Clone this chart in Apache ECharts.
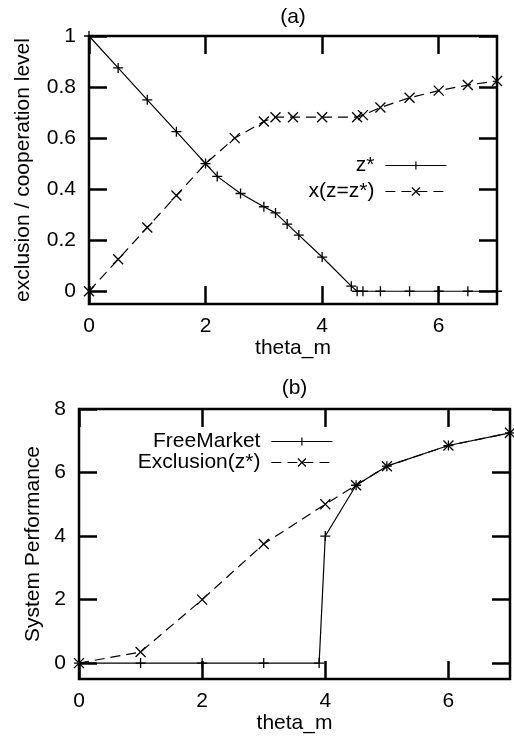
<!DOCTYPE html>
<html>
<head>
<meta charset="utf-8">
<script src="https://cdn.jsdelivr.net/npm/echarts@6/dist/echarts.min.js"></script>
<style>
  html, body { margin: 0; padding: 0; background: #fff; }
  #chart { width: 514px; height: 739px; }
</style>
</head>
<body>
<div id="chart"></div>
<script>
// (a) 数据
const zStarX = [0, 0.5, 1, 1.5, 2, 2.2, 2.6, 3, 3.2, 3.4, 3.6, 4, 4.5, 4.6, 4.7, 5, 5.5, 6, 6.5, 7]
const zStarY = [1, 0.875, 0.75, 0.625, 0.5, 0.45, 0.383, 0.331, 0.307, 0.263, 0.22, 0.134, 0.02, 0, 0, 0, 0, 0, 0, 0]
const xzX = [0, 0.5, 1, 1.5, 2, 2.5, 3, 3.2, 3.5, 4, 4.6, 4.7, 5, 5.5, 6, 6.5, 7]
const xzY = [0, 0.125, 0.25, 0.375, 0.5, 0.6, 0.665, 0.682, 0.682, 0.682, 0.682, 0.69, 0.72, 0.758, 0.786, 0.808, 0.824]
// (b) 数据
const freeX = [0, 1, 2, 3, 3.9, 4, 4.5, 5, 6, 7]
const freeY = [0, 0, 0, 0, 0, 4.0, 5.6, 6.2, 6.85, 7.25]
const exclX = [0, 1, 2, 3, 4, 4.5, 5, 6, 7]
const exclY = [0, 0.35, 2.0, 3.75, 5.0, 5.6, 6.2, 6.85, 7.25]
// 刻度
const xTicks = [0, 2, 4, 6]
const yTicksA = [0, 0.2, 0.4, 0.6, 0.8, 1]
const yTicksB = [0, 2, 4, 6, 8]

const FONT = 'Liberation Sans'
const FS = 21
const PLUS = 'path://M0,5L10,5M5,0L5,10'
const CROSS = 'path://M0,0L10,10M10,0L0,10'
const DASH = [10, 6]

function zip(xs, ys) {
    return xs.map((x, i) => [x, ys[i]])
}

// 坐标轴 (gnuplot 风格，刻度朝内，四边都有)
function axis(gi, pos, min, max, ticks, name, gap, showLabel) {
    const isX = pos === 'bottom' || pos === 'top'
    return {
        type: 'value',
        gridIndex: gi,
        position: pos,
        min: min,
        max: max,
        name: showLabel ? name : '',
        nameLocation: 'middle',
        nameGap: gap,
        nameTextStyle: { fontFamily: FONT, fontSize: FS, color: '#000' },
        axisLine: { show: false, onZero: false },
        axisTick: {
            show: true, inside: true, length: 18, customValues: ticks,
            lineStyle: { color: '#000', width: 2.5 }
        },
        axisLabel: {
            show: showLabel, customValues: ticks, margin: isX ? 12 : 13,
            fontFamily: FONT, fontSize: FS, color: '#000'
        },
        splitLine: { show: false }
    }
}

function line(name, xi, yi, data, symbol, dashed) {
    return {
        type: 'line',
        name: name,
        xAxisIndex: xi,
        yAxisIndex: yi,
        data: data,
        symbol: symbol,
        symbolSize: 10,
        showAllSymbol: true,
        animation: false,
        lineStyle: { color: '#000', width: 1.2, type: dashed ? DASH : 'solid' },
        itemStyle: { color: '#000', borderColor: '#000', borderWidth: 1.3 }
    }
}

function legend(name, right, top) {
    return {
        data: [name],
        right: right,
        top: top,
        align: 'right',
        padding: 0,
        itemWidth: 61,
        itemHeight: 10,
        itemStyle: { borderWidth: 1.2 },
        lineStyle: { width: 1.2 },
        textStyle: { fontFamily: FONT, fontSize: FS, color: '#000', padding: [0, 6, 0, 0] }
    }
}

const cs = echarts.init(document.getElementById('chart'), null, { renderer: 'canvas' })

const option = {
    backgroundColor: '#fff',
    animation: false,
    grid: [
        { left: 89, right: 17, top: 36, height: 268, show: true, borderColor: '#000', borderWidth: 2.5 },
        { left: 79, right: 4, top: 409, height: 270, show: true, borderColor: '#000', borderWidth: 2.5 }
    ],
    xAxis: [
        axis(0, 'bottom', 0, 7, xTicks, 'theta_m', 34, true),
        axis(0, 'top', 0, 7, xTicks, '', 0, false),
        axis(1, 'bottom', 0, 7, xTicks, 'theta_m', 34, true),
        axis(1, 'top', 0, 7, xTicks, '', 0, false)
    ],
    yAxis: [
        axis(0, 'left', -0.05, 1, yTicksA, 'exclusion / cooperation level', 55, true),
        axis(0, 'right', -0.05, 1, yTicksA, '', 0, false),
        axis(1, 'left', -0.5, 8, yTicksB, 'System Performance', 35, true),
        axis(1, 'right', -0.5, 8, yTicksB, '', 0, false)
    ],
    legend: [
        legend('z*', 67, 155),
        legend('x(z=z*)', 67, 181),
        legend('FreeMarket', 181, 431),
        legend('Exclusion(z*)', 181, 452)
    ],
    graphic: [
        { type: 'text', x: 293, y: 17, style: { text: '(a)', font: FS + 'px ' + FONT, fill: '#000', textAlign: 'center', textVerticalAlign: 'middle' } },
        { type: 'text', x: 294.5, y: 388, style: { text: '(b)', font: FS + 'px ' + FONT, fill: '#000', textAlign: 'center', textVerticalAlign: 'middle' } }
    ],
    series: [
        line('z*', 0, 0, zip(zStarX, zStarY), PLUS, false),
        line('x(z=z*)', 0, 0, zip(xzX, xzY), CROSS, true),
        line('FreeMarket', 2, 2, zip(freeX, freeY), PLUS, false),
        line('Exclusion(z*)', 2, 2, zip(exclX, exclY), CROSS, true)
    ]
}
cs.setOption(option)
</script>
</body>
</html>
